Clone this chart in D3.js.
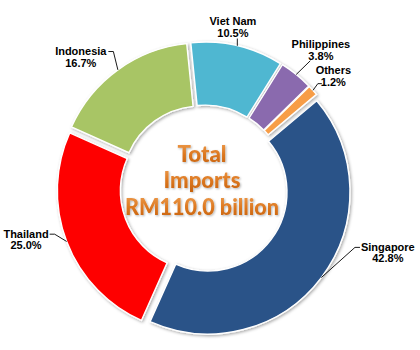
<!DOCTYPE html>
<html>
<head>
<meta charset="utf-8">
<script src="https://cdn.jsdelivr.net/npm/d3@7"></script>
<style>
  html, body { margin: 0; padding: 0; background: #fff; }
  svg { display: block; }
</style>
</head>
<body>
<svg id="chart" width="420" height="350"></svg>
<script>
// ---- data ----
const categories = ["Singapore", "Thailand", "Indonesia", "Viet Nam", "Philippines", "Others"];
const shares = [42.8, 25.0, 16.7, 10.5, 3.8, 1.2];
const centerLines = ["Total", "Imports", "RM110.0 billion"];

// ---- styles / layout ----
const colors = ["#2A5388", "#FE0000", "#A8C565", "#50B7D1", "#8A6AAE", "#F79D47"];
const labelAngleDeg = [108.6, 254.7, 317.4, 10.0, 39.7, 48.4];
const labelDist = [194, 184.5, 182, 166.5, 183, 173];
const leaderType = ["left1", "right1", "right1", "bottom", "bottomleft", "left2"];

const W = 420, H = 350;
const cx = 204, cy = 189;
const R = 142, r = 79, explode = 5;

const svg = d3.select("#chart");
const defs = svg.append("defs");

const shadow = defs.append("filter").attr("id", "shadow")
  .attr("x", "-20%").attr("y", "-20%").attr("width", "140%").attr("height", "140%");
shadow.append("feDropShadow").attr("dx", 1.2).attr("dy", 1.2)
  .attr("stdDeviation", 1.4).attr("flood-color", "#000").attr("flood-opacity", 0.35);

const tshadow = defs.append("filter").attr("id", "tshadow")
  .attr("x", "-20%").attr("y", "-20%").attr("width", "140%").attr("height", "140%");
tshadow.append("feDropShadow").attr("dx", 1).attr("dy", 1)
  .attr("stdDeviation", 1).attr("flood-color", "#000").attr("flood-opacity", 0.3);

const tg = defs.append("linearGradient").attr("id", "txtgrad")
  .attr("x1", 0).attr("y1", 0).attr("x2", 0).attr("y2", 1);
tg.append("stop").attr("offset", "0%").attr("stop-color", "#F0A458");
tg.append("stop").attr("offset", "55%").attr("stop-color", "#DD7820");
tg.append("stop").attr("offset", "100%").attr("stop-color", "#C4600C");

const data = categories.map((c, i) => ({ name: c, value: shares[i], i }));

const pie = d3.pie().value(d => d.value).sort(null)
  .startAngle(50 * Math.PI / 180)
  .endAngle(50 * Math.PI / 180 + 2 * Math.PI);
const arcs = pie(data);
const arc = d3.arc().innerRadius(r).outerRadius(R);

const g = svg.append("g").attr("transform", `translate(${cx},${cy})`);

function offsetOf(a) {
  const m = (a.startAngle + a.endAngle) / 2;
  return [explode * Math.sin(m), -explode * Math.cos(m)];
}

g.selectAll("path.slice").data(arcs).enter().append("path")
  .attr("class", "slice")
  .attr("d", arc)
  .attr("transform", a => { const o = offsetOf(a); return `translate(${o[0]},${o[1]})`; })
  .attr("fill", a => colors[a.data.i])
  .attr("stroke", "#fff")
  .attr("stroke-width", 1.4)
  .attr("filter", "url(#shadow)");

// ---- labels ----
const labelG = svg.append("g");
arcs.forEach(a => {
  const i = a.data.i;
  const ang = labelAngleDeg[i] * Math.PI / 180;
  const lx = cx + labelDist[i] * Math.sin(ang);
  const ly = cy - labelDist[i] * Math.cos(ang);
  const t = labelG.append("text")
    .attr("font-family", "'Liberation Sans', Arial, sans-serif")
    .attr("font-size", 11).attr("font-weight", "bold")
    .attr("fill", "#000").attr("text-anchor", "middle");
  const t1 = t.append("tspan").attr("x", lx).attr("y", ly).text(a.data.name);
  const t2 = t.append("tspan").attr("x", lx).attr("y", ly + 11.5).text(a.data.value.toFixed(1) + "%");
  const b1 = t1.node().getBBox();
  const b2 = t2.node().getBBox();

  const m = (a.startAngle + a.endAngle) / 2;
  const o = offsetOf(a);
  const px = cx + o[0] + R * Math.sin(m);
  const py = cy + o[1] - R * Math.cos(m);

  let pts;
  const type = leaderType[i];
  if (type === "right1") {
    const sx = b1.x + b1.width + 1, sy = ly - 3.5;
    pts = [[sx, sy], [sx + 5, sy], [px, py]];
  } else if (type === "left1") {
    const sx = b1.x - 1, sy = ly - 3.5;
    pts = [[sx, sy], [sx - 5, sy], [px, py]];
  } else if (type === "left2") {
    const sx = b2.x + 1, sy = ly + 11.5 - 2;
    pts = [[sx, sy], [sx - 4, sy], [px, py]];
  } else if (type === "bottomleft") {
    pts = [[b2.x + 2, b2.y + b2.height - 1], [px, py]];
  } else {
    pts = [[px, b2.y + b2.height], [px, py]];
  }
  labelG.append("path")
    .attr("d", d3.line()(pts))
    .attr("fill", "none").attr("stroke", "#000").attr("stroke-width", 0.9);
});

// ---- center text ----
const lineBase = [162, 188, 215];
const lineLen = [49, 77, 154];
const ct = svg.append("g").attr("filter", "url(#tshadow)");
centerLines.forEach((s, k) => {
  ct.append("text")
    .attr("x", cx - 2).attr("y", lineBase[k])
    .attr("text-anchor", "middle")
    .attr("font-family", "Lato, 'Open Sans', sans-serif")
    .attr("font-weight", 900)
    .attr("font-size", 23)
    .attr("textLength", lineLen[k])
    .attr("lengthAdjust", "spacingAndGlyphs")
    .attr("fill", "url(#txtgrad)")
    .text(s);
});
</script>
</body>
</html>
